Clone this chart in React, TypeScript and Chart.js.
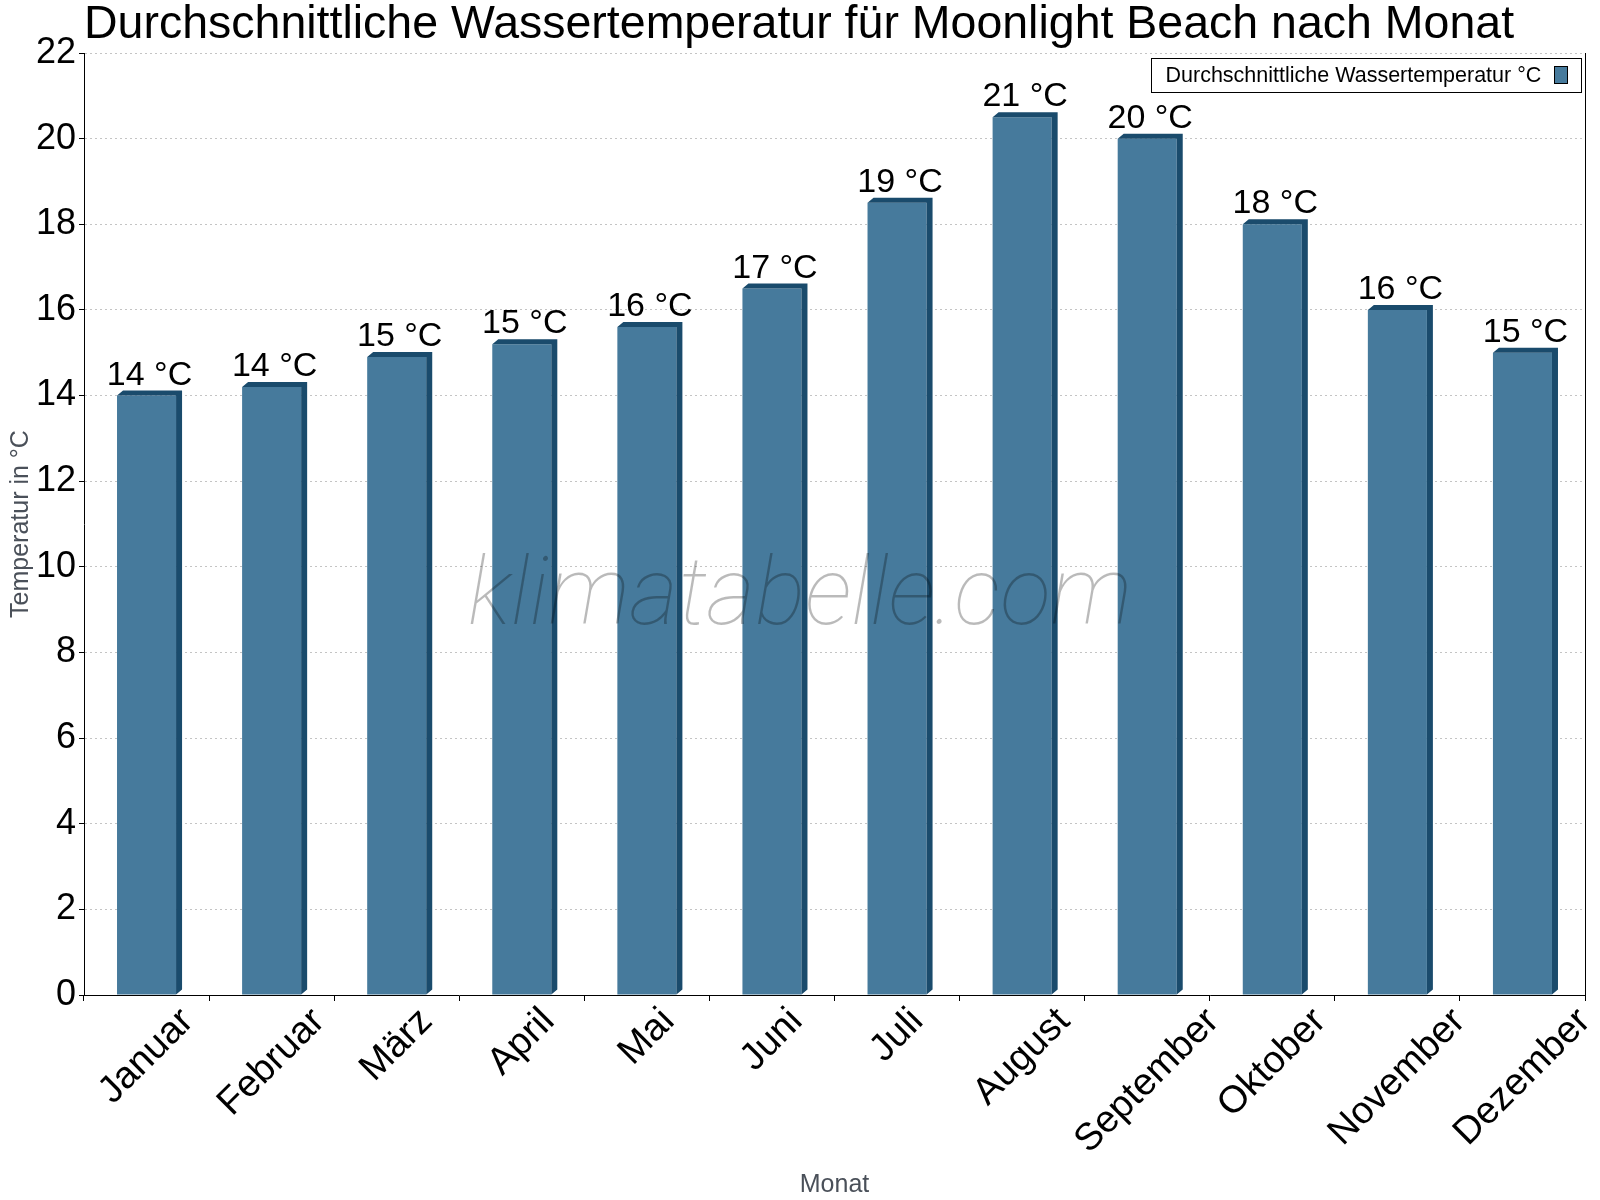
import { useEffect, useRef } from 'react';
import { Chart, registerables } from 'chart.js';

Chart.register(...registerables);

const months = [
  'Januar', 'Februar', 'März', 'April', 'Mai', 'Juni',
  'Juli', 'August', 'September', 'Oktober', 'November', 'Dezember',
];
const waterTemp = [14.0, 14.2, 14.9, 15.2, 15.6, 16.5, 18.5, 20.5, 20.0, 18.0, 16.0, 15.0];
const yMin = 0;
const yMax = 22;
const yStep = 2;

const seriesLabel = 'Durchschnittliche Wassertemperatur °C';
const chartTitle = 'Durchschnittliche Wassertemperatur für Moonlight Beach nach Monat';
const watermark = 'klimatabelle.com';

const FONT = '"Liberation Sans", Arial, sans-serif';
const FRONT = '#467a9c';
const DEPTH = '#1a4b6c';
const DX = 6; // 3d depth, horizontal
const DY = 5; // 3d depth, vertical

const decorations = {
  id: 'decorations',
  afterDatasetsDraw(chart: any) {
    const { ctx, chartArea } = chart;
    const meta = chart.getDatasetMeta(0);

    // 3d top + side of each bar
    ctx.save();
    ctx.fillStyle = DEPTH;
    meta.data.forEach((el: any) => {
      const { x, y, base, width } = el.getProps(['x', 'y', 'base', 'width'], true);
      const l = x - width / 2;
      const r = x + width / 2;
      ctx.beginPath();
      ctx.moveTo(l, y);
      ctx.lineTo(l + DX, y - DY);
      ctx.lineTo(r + DX, y - DY);
      ctx.lineTo(r + DX, base - DY);
      ctx.lineTo(r, base);
      ctx.lineTo(r, y);
      ctx.closePath();
      ctx.fill();
    });
    ctx.restore();

    // right border of the plot
    ctx.save();
    ctx.strokeStyle = '#000';
    ctx.lineWidth = 1;
    ctx.beginPath();
    ctx.moveTo(Math.round(chartArea.right) + 0.5, chartArea.top);
    ctx.lineTo(Math.round(chartArea.right) + 0.5, chartArea.bottom);
    ctx.stroke();
    ctx.restore();

    // watermark
    ctx.save();
    ctx.font = 'italic 100 94px Roboto';
    ctx.fillStyle = 'rgba(0, 0, 0, 0.27)';
    ctx.textAlign = 'center';
    ctx.textBaseline = 'alphabetic';
    ctx.fillText(watermark, chart.width / 2, 624);
    ctx.restore();
  },
  afterDraw(chart: any) {
    const { ctx, chartArea } = chart;
    const meta = chart.getDatasetMeta(0);
    const xs = chart.scales.x;

    // value labels
    ctx.save();
    ctx.font = `34px ${FONT}`;
    ctx.fillStyle = '#000';
    ctx.textAlign = 'center';
    ctx.textBaseline = 'alphabetic';
    meta.data.forEach((el: any, i: number) => {
      const { x, y } = el.getProps(['x', 'y'], true);
      ctx.fillText(`${Math.round(waterTemp[i])} °C`, x + DX / 2, y - DY - 6);
    });
    ctx.restore();

    // rotated month labels, centred under each category
    ctx.save();
    const fs = 38;
    ctx.font = `${fs}px ${FONT}`;
    ctx.fillStyle = '#000';
    ctx.textAlign = 'center';
    ctx.textBaseline = 'middle';
    months.forEach((m, i) => {
      const cx = xs.getPixelForValue(i);
      const w = ctx.measureText(m).width;
      const half = ((w + fs) * Math.SQRT1_2) / 2;
      ctx.save();
      ctx.translate(cx, xs.top + 7 + half);
      ctx.rotate(-Math.PI / 4);
      ctx.fillText(m, 0, 0);
      ctx.restore();
    });
    ctx.restore();

    // title
    ctx.save();
    ctx.font = `46.5px ${FONT}`;
    ctx.fillStyle = '#000';
    ctx.textAlign = 'left';
    ctx.textBaseline = 'alphabetic';
    ctx.fillText(chartTitle, chartArea.left, 38);
    ctx.restore();

    // legend box in the top-right corner
    ctx.save();
    ctx.font = `21.5px ${FONT}`;
    const tw = ctx.measureText(seriesLabel).width;
    const boxW = Math.round(14 + tw + 13 + 14 + 13);
    const boxH = 34;
    const bx = Math.round(chartArea.right - 4 - boxW) + 0.5;
    const by = Math.round(chartArea.top + 5) + 0.5;
    ctx.fillStyle = '#fff';
    ctx.fillRect(bx, by, boxW, boxH);
    ctx.strokeStyle = '#000';
    ctx.lineWidth = 1;
    ctx.strokeRect(bx, by, boxW, boxH);
    ctx.fillStyle = '#000';
    ctx.textAlign = 'left';
    ctx.textBaseline = 'middle';
    ctx.fillText(seriesLabel, bx + 14, by + boxH / 2 + 1);
    const sx = bx + boxW - 13 - 14;
    ctx.fillStyle = FRONT;
    ctx.fillRect(sx, by + 8, 13, 17);
    ctx.strokeRect(sx, by + 8, 13, 17);
    ctx.restore();
  },
};

export default function App() {
  const canvasRef = useRef<HTMLCanvasElement>(null);

  useEffect(() => {
    document.body.style.margin = '0';
    if (!canvasRef.current) return;

    const chart = new Chart(canvasRef.current, {
      type: 'bar',
      data: {
        labels: months,
        datasets: [
          {
            label: seriesLabel,
            data: waterTemp,
            backgroundColor: FRONT,
            borderWidth: 0,
            categoryPercentage: 1,
            barPercentage: 0.472,
          },
        ],
      },
      options: {
        responsive: false,
        devicePixelRatio: 1,
        animation: false,
        layout: { padding: { top: 53, right: 15, left: 0, bottom: 0 } },
        plugins: {
          legend: { display: false },
          title: { display: false },
          tooltip: { enabled: false },
        },
        scales: {
          x: {
            type: 'category',
            offset: true,
            grid: {
              display: true,
              offset: true,
              drawOnChartArea: false,
              drawTicks: true,
              tickLength: 6,
              color: '#000',
            },
            border: { display: true, color: '#000', width: 1 },
            ticks: { display: false },
            title: {
              display: true,
              text: 'Monat',
              color: '#4a5059',
              font: { family: FONT, size: 25 },
              padding: { top: 2, bottom: 0 },
            },
            afterFit: (s: any) => {
              s.height = 205;
            },
          },
          y: {
            min: yMin,
            max: yMax,
            ticks: {
              stepSize: yStep,
              color: '#000',
              font: { family: FONT, size: 36 },
              padding: 3,
            },
            grid: {
              color: '#c4c4c4',
              tickColor: '#000',
              tickLength: 5,
            },
            border: { display: true, color: '#000', width: 1, dash: [2, 3] },
            title: {
              display: true,
              text: 'Temperatur in °C',
              color: '#4a5059',
              font: { family: FONT, size: 25 },
              padding: { top: 6, bottom: 0 },
            },
            afterFit: (s: any) => {
              s.width = 84;
            },
          },
        },
      },
      plugins: [decorations],
    });

    return () => {
      chart.destroy();
    };
  }, []);

  return (
    <div style={{ width: 1600, height: 1200, background: '#fff' }}>
      <canvas ref={canvasRef} width={1600} height={1200} />
    </div>
  );
}
